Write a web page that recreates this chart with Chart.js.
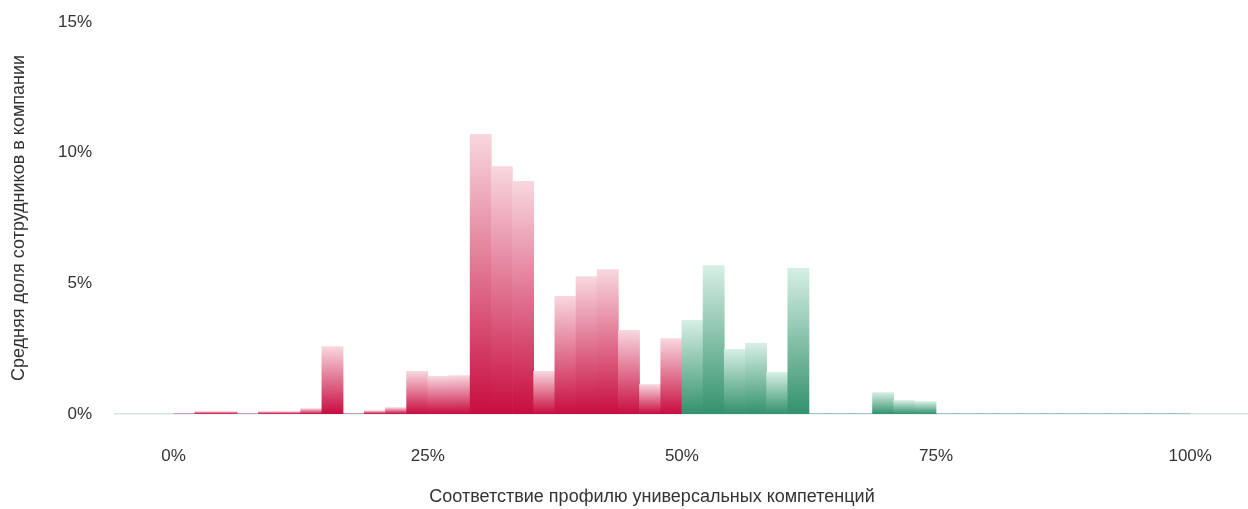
<!DOCTYPE html>
<html>
<head>
<meta charset="utf-8">
<script src="https://cdn.jsdelivr.net/npm/chart.js@4/dist/chart.umd.min.js"></script>
<style>
  html, body { margin: 0; padding: 0; background: #fff; }
  #wrap { width: 1248px; height: 509px; position: relative; }
</style>
</head>
<body>
<div id="wrap"><canvas id="chart"></canvas></div>
<script>
// bins of the competence-match histogram (48 bins, 0..100%)
const binStarts = Array.from({ length: 48 }, (_, i) => i * 100 / 48);
const shares = [
  0, 0.1, 0.1, 0, 0.1, 0.1, 0.21, 2.58,
  0, 0.13, 0.25, 1.63, 1.44, 1.47, 10.7, 9.47,
  8.9, 1.63, 4.5, 5.26, 5.53, 3.2, 1.13, 2.89,
  3.58, 5.68, 2.47, 2.7, 1.59, 5.57, 0, 0,
  0, 0.82, 0.52, 0.48, 0, 0, 0, 0,
  0, 0, 0, 0, 0, 0, 0, 0
];
const xTicks = [0, 25, 50, 75, 100];
const yTicks = [0, 5, 10, 15];
const xTitle = 'Соответствие профилю универсальных компетенций';
const yTitle = 'Средняя доля сотрудников в компании';

// use a narrow face if the machine has one
function hasFont(name) {
  const c = document.createElement('canvas').getContext('2d');
  c.font = '20px monospace';
  const a = c.measureText('Соответствие 0123%').width;
  c.font = '20px "' + name + '", monospace';
  return c.measureText('Соответствие 0123%').width !== a;
}
const narrow = hasFont('Liberation Sans Narrow');
const FONT = narrow ? '"Liberation Sans Narrow", sans-serif' : '"Liberation Sans", Arial, sans-serif';
const tickSize = narrow ? 20 : 17;
const titleSize = narrow ? 21 : 18;
const textColor = '#333';

function barFill(context) {
  const chart = context.chart;
  const { chartArea, scales } = chart;
  if (!chartArea || context.type !== 'data') return '#c8103f';
  const raw = context.raw;
  const good = raw.x >= 50;
  const top = good ? '#d6efe4' : '#f8d7df';
  const bottom = good ? '#33916d' : '#c80d40';
  const yTop = scales.y.getPixelForValue(raw.y);
  const yBase = scales.y.getPixelForValue(0);
  if (yBase - yTop < 1) return bottom;
  const g = chart.ctx.createLinearGradient(0, yTop, 0, yBase);
  g.addColorStop(0, top);
  g.addColorStop(1, bottom);
  return g;
}

// x axis title sits a little left of the plot centre in the original
const xTitlePlugin = {
  id: 'xTitle',
  afterDraw(chart) {
    const ctx = chart.ctx;
    ctx.save();
    ctx.font = titleSize + 'px ' + FONT;
    ctx.fillStyle = textColor;
    ctx.textAlign = 'center';
    ctx.textBaseline = 'middle';
    ctx.fillText(xTitle, 652, 497);
    ctx.restore();
  }
};

const points = binStarts.map((s, i) => ({ x: s + 50 / 48, y: shares[i] }));

new Chart(document.getElementById('chart'), {
  type: 'bar',
  data: {
    datasets: [{
      data: points,
      backgroundColor: barFill,
      borderWidth: 0,
      barPercentage: 1,
      categoryPercentage: 1
    }]
  },
  plugins: [xTitlePlugin],
  options: {
    responsive: true,
    maintainAspectRatio: false,
    animation: false,
    layout: { padding: { top: 22, right: 0, left: 0, bottom: 0 } },
    plugins: { legend: { display: false }, tooltip: { enabled: false } },
    scales: {
      x: {
        type: 'linear',
        offset: false,
        min: -5.77,
        max: 105.69,
        afterBuildTicks: s => { s.ticks = xTicks.map(v => ({ value: v })); },
        afterFit: s => { s.height = 95; s.paddingLeft = 0; s.paddingRight = 0; },
        grid: { display: false, drawTicks: false },
        border: { display: true, color: '#d5e3ef', width: 1.5 },
        ticks: {
          padding: 32,
          color: textColor,
          font: { family: FONT, size: tickSize },
          callback: v => v + '%'
        },
        title: { display: false }
      },
      y: {
        min: 0,
        max: 15,
        afterBuildTicks: s => { s.ticks = yTicks.map(v => ({ value: v })); },
        afterFit: s => { s.width = 115; s.paddingTop = 0; s.paddingBottom = 0; },
        grid: { display: false, drawTicks: false },
        border: { display: false },
        ticks: {
          padding: 23,
          color: textColor,
          font: { family: FONT, size: tickSize },
          callback: v => v + '%'
        },
        title: {
          display: true,
          text: yTitle,
          color: textColor,
          font: { family: FONT, size: titleSize },
          padding: { top: 8, bottom: 0 }
        }
      }
    }
  }
});
</script>
</body>
</html>
